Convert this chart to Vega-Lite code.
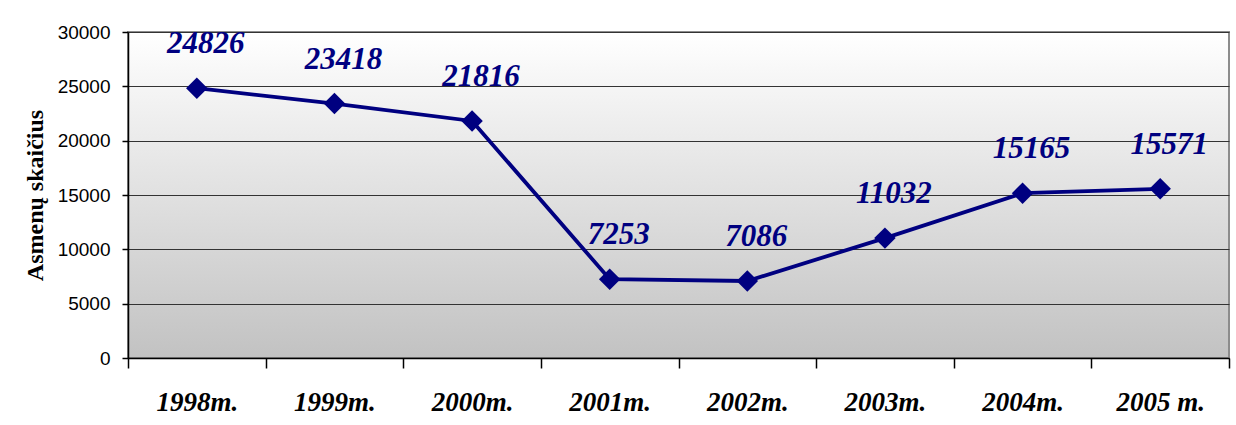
{
  "$schema": "https://vega.github.io/schema/vega-lite/v6.json",
  "width": 1101,
  "height": 326,
  "autosize": {"type": "none"},
  "padding": {"left": 128, "top": 32, "right": 7, "bottom": 67},
  "background": "#ffffff",
  "config": {
    "view": {
      "fill": {"gradient": "linear", "x1": 0, "y1": 0, "x2": 0, "y2": 1,
        "stops": [{"offset": 0, "color": "#ffffff"}, {"offset": 1, "color": "#c2c2c2"}]},
      "stroke": "#8c8c8c",
      "strokeWidth": 2
    }
  },
  "data": {
    "values": [
      {"year": "1998m.", "value": 24826},
      {"year": "1999m.", "value": 23418},
      {"year": "2000m.", "value": 21816},
      {"year": "2001m.", "value": 7253},
      {"year": "2002m.", "value": 7086},
      {"year": "2003m.", "value": 11032},
      {"year": "2004m.", "value": 15165},
      {"year": "2005 m.", "value": 15571}
    ]
  },
  "encoding": {
    "x": {
      "field": "year", "type": "ordinal", "sort": null,
      "scale": {"paddingInner": 0, "paddingOuter": 0},
      "axis": {
        "title": null, "labelAngle": 0,
        "labelFont": "Liberation Serif", "labelFontSize": 27, "labelFontWeight": "bold", "labelFontStyle": "italic",
        "labelColor": "#000000", "labelPadding": 21,
        "tickBand": "extent", "tickSize": 10, "tickColor": "#000000", "tickWidth": 1.5,
        "domainColor": "#000000", "domainWidth": 1.5, "grid": false
      }
    },
    "y": {
      "field": "value", "type": "quantitative",
      "scale": {"domain": [0, 30000], "nice": false},
      "axis": {
        "title": "Asmenų skaičius", "values": [0, 5000, 10000, 15000, 20000, 25000, 30000],
        "format": "d",
        "titleFont": "Liberation Serif", "titleFontSize": 24, "titleFontWeight": "bold", "titleColor": "#000000",
        "titlePadding": 10,
        "labelFont": "Liberation Sans", "labelFontSize": 19, "labelColor": "#000000", "labelPadding": 12,
        "tickSize": 6, "tickColor": "#000000", "tickWidth": 1.5,
        "domainColor": "#000000", "domainWidth": 1.5,
        "grid": true, "gridColor": "#333333", "gridWidth": 1.2, "gridOpacity": 1
      }
    }
  },
  "layer": [
    {"mark": {"type": "line", "color": "#000080", "strokeWidth": 3.8}},
    {"mark": {"type": "point", "shape": "diamond", "filled": true, "size": 460, "color": "#000080", "opacity": 1}},
    {
      "mark": {"type": "text", "font": "Liberation Serif", "fontSize": 31, "fontWeight": "bold", "fontStyle": "italic",
        "color": "#000080", "dy": -44, "dx": 9},
      "encoding": {"text": {"field": "value", "type": "quantitative", "format": "d"}}
    }
  ]
}
